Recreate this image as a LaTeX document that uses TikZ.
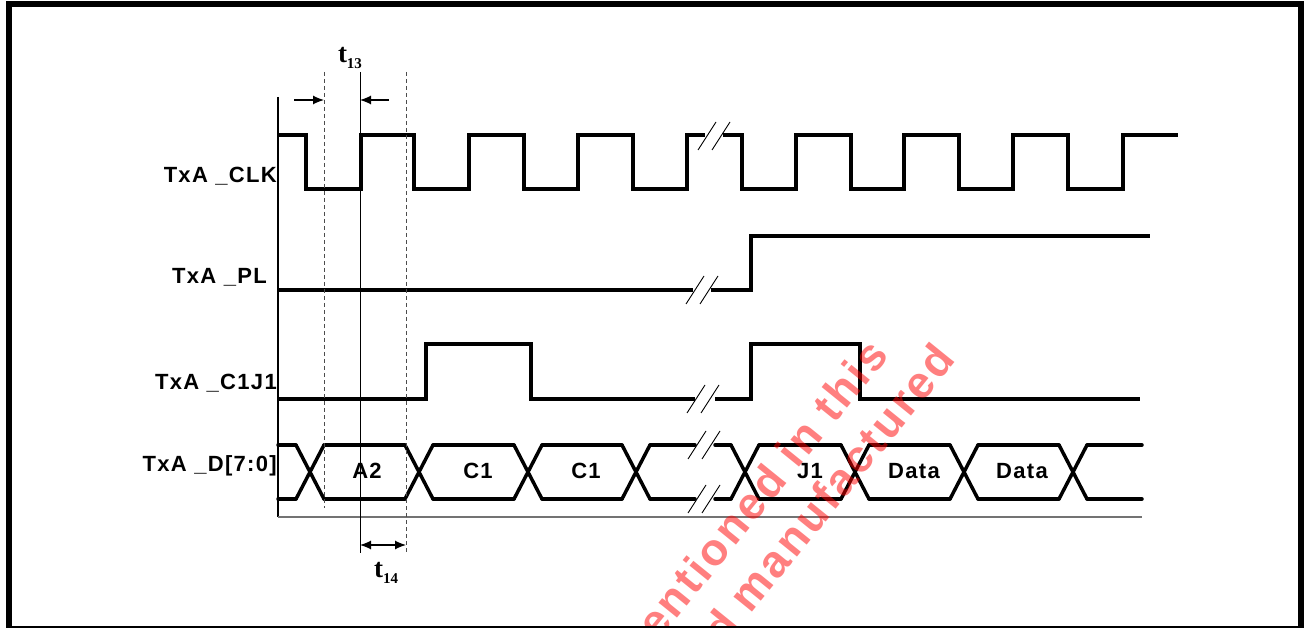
\documentclass[tikz,border=0pt]{standalone}
\usepackage{fontspec}
\setmainfont{Liberation Sans}[LetterSpace=6]
\newfontfamily\serifb{Liberation Serif}
\usetikzlibrary{arrows.meta}

% dos rayas de corte en (x,y)
\newcommand{\corte}[2]{%
  \draw[raya] (#1-16,#2+14) -- (#1+2,#2-14);
  \draw[raya] (#1-2,#2+14) -- (#1+16,#2-14);}

\begin{document}
\begin{tikzpicture}[x=1pt, y=-1pt,
  sig/.style={line width=3.5pt, line join=miter},
  bus/.style={line width=3.5pt, line cap=round},
  raya/.style={line width=0.9pt},
  guia/.style={line width=0.9pt, dashed, dash pattern=on 4pt off 3pt, black!70},
  cota/.style={line width=1.2pt, -{Latex[length=11pt, width=9pt]}},
  lbl/.style={anchor=east, inner sep=0pt, font=\fontsize{22}{25}\selectfont\bfseries},
  dlbl/.style={inner sep=0pt, font=\fontsize{22}{25}\selectfont\bfseries},
  tlbl/.style={inner sep=0pt, font=\fontsize{27}{30}\selectfont\serifb\bfseries},
  marca/.style={text=red, text opacity=0.5, inner sep=0pt,
    font=\fontsize{45}{48}\selectfont\bfseries}]
  \clip (0,0) rectangle (1304,628);

  % Nodos
  \node[lbl] (clk) at (277,176) {TxA \_CLK};
  \node[lbl] (pl) at (267,277) {TxA \_PL};
  \node[lbl] (c1j1) at (277,383) {TxA \_C1J1};
  \node[lbl] (dat) at (277,466) {TxA \_D[7:0]};

  % ejes
  \draw[line width=1.2pt] (278,97) -- (278,517);
  \draw[line width=2pt, black!55] (278,517) -- (1142,517);

  % TxA_CLK
  \draw[sig] (278,135) -- (306,135) -- (306,189) -- (361,189) -- (361,135)
    -- (414,135) -- (414,189) -- (469,189) -- (469,135) -- (524,135)
    -- (524,189) -- (578,189) -- (578,135) -- (633,135) -- (633,189)
    -- (687,189) -- (687,135) -- (705,135);
  \draw[sig] (723,135) -- (742,135) -- (742,189) -- (796,189) -- (796,135)
    -- (851,135) -- (851,189) -- (904,189) -- (904,135) -- (959,135)
    -- (959,189) -- (1013,189) -- (1013,135) -- (1068,135) -- (1068,189)
    -- (1123,189) -- (1123,135) -- (1178,135);
  \corte{714}{136}

  % TxA_PL
  \draw[sig] (278,290) -- (693,290);
  \draw[sig] (711,290) -- (751,290) -- (751,236) -- (1150,236);
  \corte{702}{290}

  % TxA_C1J1
  \draw[sig] (278,399) -- (426,399) -- (426,344) -- (531,344) -- (531,399)
    -- (695,399);
  \draw[sig] (715,399) -- (751,399) -- (751,344) -- (860,344) -- (860,399)
    -- (1140,399);
  \corte{703}{399}

  % TxA_D[7:0]
  \foreach \c in {310,419,528,636,745,855,964,1073} {
    \draw[bus] (\c-14,445) -- (\c+14,499);
    \draw[bus] (\c-14,499) -- (\c+14,445);
  }
  \foreach \a/\b in {278/296,324/405,433/514,542/622,650/695,715/731,
      759/841,869/950,978/1059,1087/1142} {
    \draw[bus] (\a,445) -- (\b,445);
    \draw[bus] (\a,499) -- (\b,499);
  }
  \corte{704}{445}
  \corte{704}{499}

  \node[dlbl] (a2) at (367,471) {A2};
  \node[dlbl] (c1a) at (478,471) {C1};
  \node[dlbl] (c1b) at (586,471) {C1};
  \node[dlbl] (j1) at (810,471) {J1};
  \node[dlbl] (dta) at (914,471) {Data};
  \node[dlbl] (dtb) at (1022,471) {Data};

  % tiempos t13 y t14
  \coordinate (g1a) at (324,72);
  \coordinate (g1b) at (324,508);
  \coordinate (g2a) at (360,72);
  \coordinate (g2b) at (360,553);
  \coordinate (g3a) at (406,72);
  \coordinate (g3b) at (406,553);
  \draw[guia] (g1a) -- (g1b);
  \draw[line width=0.9pt] (g2a) -- (g2b);
  \draw[guia] (g3a) -- (g3b);

  \coordinate (f1) at (294,100);
  \coordinate (f2) at (389,100);
  \draw[cota] (f1) -- (g1a |- f1);
  \draw[cota] (f2) -- (g2a |- f2);
  \coordinate (f3) at (360,545);
  \draw[cota, {Latex[length=11pt, width=9pt]}-{Latex[length=11pt, width=9pt]}]
    (f3) -- (g3a |- f3);

  \node[tlbl] (t13) at (350,58) {t\raisebox{-6pt}{\fontsize{15}{17}\selectfont 13}};
  \node[tlbl] (t14) at (386,573) {t\raisebox{-6pt}{\fontsize{15}{17}\selectfont 14}};

  % marca de agua
  \node[marca, rotate=51, anchor=base east] (wm1) at (890,356) {entioned in this};
  \node[marca, rotate=51, anchor=base east] (wm2) at (957,360) {d manufactured};

  % marco
  \draw[line width=6pt] (9,4) rectangle (1301,629);
\end{tikzpicture}
\end{document}
